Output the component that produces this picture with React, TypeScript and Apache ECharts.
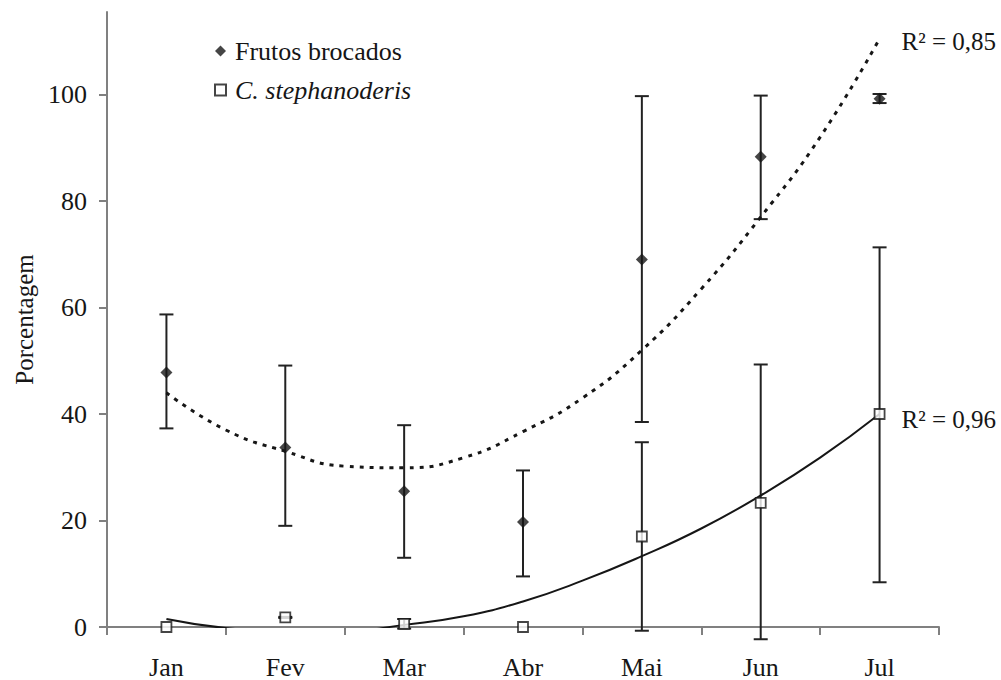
import { useEffect, useRef } from "react";
import * as echarts from "echarts";

const months = ["Jan", "Fev", "Mar", "Abr", "Mai", "Jun", "Jul"];
const yTicks = [0, 20, 40, 60, 80, 100];

const frutosMean = [47.8, 33.7, 25.5, 19.7, 69.0, 88.3, 99.2];
const frutosLow = [37.3, 19.0, 13.0, 9.5, 38.5, 76.6, 98.4];
const frutosHigh = [58.7, 49.1, 37.9, 29.4, 99.7, 99.8, 100.1];

const stephMean = [0, 1.8, 0.6, 0, 17.0, 23.3, 40.0];
const stephLow = [0, 1.7, -0.3, 0, -0.7, -2.3, 8.4];
const stephHigh = [0, 1.9, 1.5, 0, 34.7, 49.3, 71.3];

// trend lines at half-month steps
const trendX = [0, 0.5, 1, 1.5, 2, 2.5, 3, 3.5, 4, 4.5, 5, 5.5, 6];
const frutosTrend = [44, 37, 33, 30.2, 29.9, 31.8, 36.7, 43, 52, 63.5, 77, 92, 110.5];
const stephTrend = [1.5, -0.2, -0.8, -0.8, 0.4, 2, 4.8, 8.7, 13.3, 18.5, 24.7, 31.8, 40];

const seriesNames = ["Frutos brocados", "C. stephanoderis"];
const r2Labels = ["R² = 0,85", "R² = 0,96"];

const FONT = '"Liberation Serif", "Times New Roman", serif';
const INK = "#161616";
const BAR = "#222222";
const AXIS = "#808080";

function errorRender(params: any, api: any) {
  const x = api.value(0);
  const lo = api.value(1);
  const hi = api.value(2);
  const a = api.coord([x, lo]);
  const b = api.coord([x, hi]);
  const w = 7;
  const style = { stroke: BAR, lineWidth: 2 };
  return {
    type: "group",
    children: [
      { type: "line", shape: { x1: a[0], y1: a[1], x2: b[0], y2: b[1] }, style },
      { type: "line", shape: { x1: a[0] - w, y1: a[1], x2: a[0] + w, y2: a[1] }, style },
      { type: "line", shape: { x1: b[0] - w, y1: b[1], x2: b[0] + w, y2: b[1] }, style },
    ],
  };
}

function errData(mean: number[], lo: number[], hi: number[]) {
  const out: number[][] = [];
  mean.forEach((_, i) => {
    if (hi[i] !== lo[i]) out.push([i, lo[i], hi[i]]);
  });
  return out;
}

export default function App() {
  const ref = useRef<HTMLDivElement>(null);

  useEffect(() => {
    document.body.style.margin = "0";
    if (!ref.current) return;
    const chart = echarts.init(ref.current, null, { renderer: "svg" });

    const labelFont = { fontFamily: FONT, fontSize: 25, color: INK };

    const option: any = {
      animation: false,
      backgroundColor: "#ffffff",
      grid: { left: 107, right: 62, top: 12, bottom: 52 },
      legend: {
        orient: "vertical",
        left: 209,
        top: 31,
        itemWidth: 11,
        itemHeight: 11,
        itemGap: 9,
        data: [
          { name: seriesNames[0], icon: "diamond" },
          { name: seriesNames[1], icon: "rect" },
        ],
        formatter: (name: string) => (name === seriesNames[1] ? "{i|" + name + "}" : "{n|" + name + "}"),
        textStyle: {
          fontFamily: FONT,
          fontSize: 26,
          color: INK,
          lineHeight: 30,
          rich: {
            n: { fontFamily: FONT, fontSize: 26, color: INK, lineHeight: 30, padding: [0, 0, 0, 4] },
            i: { fontFamily: FONT, fontSize: 26, fontStyle: "italic", color: INK, lineHeight: 30, padding: [0, 0, 0, 4] },
          },
        },
      },
      xAxis: [
        {
          type: "category",
          data: months,
          boundaryGap: true,
          axisLine: { show: true, onZero: false, lineStyle: { color: AXIS, width: 2 } },
          axisTick: { show: true, length: 8, lineStyle: { color: AXIS, width: 2 } },
          axisLabel: { fontFamily: FONT, fontSize: 26, color: INK, margin: 27 },
          splitLine: { show: false },
        },
        {
          type: "value",
          min: -0.5,
          max: 6.5,
          show: false,
          axisLine: { show: false, onZero: false },
          splitLine: { show: false },
        },
      ],
      yAxis: {
        type: "value",
        min: 0,
        max: 115.5,
        name: "Porcentagem",
        nameLocation: "middle",
        nameGap: 70,
        nameTextStyle: { fontFamily: FONT, fontSize: 25, color: INK },
        axisLine: { show: true, onZero: false, lineStyle: { color: AXIS, width: 2 } },
        axisTick: { show: true, length: 8, customValues: yTicks, lineStyle: { color: AXIS, width: 2 } },
        axisLabel: { fontFamily: FONT, fontSize: 26, color: INK, margin: 20, customValues: yTicks },
        splitLine: { show: false },
      },
      series: [
        {
          type: "custom",
          name: "err-frutos",
          xAxisIndex: 1,
          renderItem: errorRender,
          clip: false,
          z: 2,
          encode: { x: 0, y: [1, 2] },
          data: errData(frutosMean, frutosLow, frutosHigh),
        },
        {
          type: "custom",
          name: "err-steph",
          xAxisIndex: 1,
          renderItem: errorRender,
          clip: false,
          z: 2,
          encode: { x: 0, y: [1, 2] },
          data: errData(stephMean, stephLow, stephHigh),
        },
        {
          type: "line",
          name: "trend-frutos",
          xAxisIndex: 1,
          smooth: true,
          showSymbol: false,
          clip: true,
          z: 3,
          lineStyle: { color: INK, width: 3, type: [4, 6] },
          data: trendX.map((x, i) => [x, frutosTrend[i]]),
          endLabel: {
            show: true,
            formatter: "{r|" + r2Labels[0] + "}",
            distance: 22,
            offset: [0, 3],
            rich: { r: labelFont },
            ...labelFont,
          },
        },
        {
          type: "line",
          name: "trend-steph",
          xAxisIndex: 1,
          smooth: true,
          showSymbol: false,
          clip: true,
          z: 3,
          lineStyle: { color: INK, width: 2 },
          data: trendX.map((x, i) => [x, stephTrend[i]]),
          endLabel: {
            show: true,
            formatter: "{r|" + r2Labels[1] + "}",
            distance: 22,
            offset: [0, 5],
            rich: { r: labelFont },
            ...labelFont,
          },
        },
        {
          type: "scatter",
          name: seriesNames[0],
          xAxisIndex: 1,
          symbol: "diamond",
          symbolSize: 12,
          clip: false,
          z: 5,
          itemStyle: { color: INK },
          data: frutosMean.map((v, i) => [i, v]),
        },
        {
          type: "scatter",
          name: seriesNames[1],
          xAxisIndex: 1,
          symbol: "rect",
          symbolSize: 10,
          clip: false,
          z: 5,
          itemStyle: { color: "#ffffff", borderColor: INK, borderWidth: 1.8 },
          data: stephMean.map((v, i) => [i, v]),
        },
      ],
    };

    chart.setOption(option);
    return () => chart.dispose();
  }, []);

  return <div ref={ref} style={{ width: 1001, height: 680 }} />;
}
